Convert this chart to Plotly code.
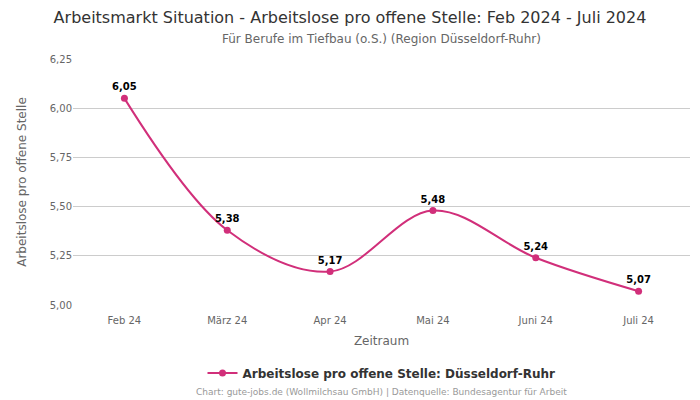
import plotly.graph_objects as go

months = ["Feb 24", "März 24", "Apr 24", "Mai 24", "Juni 24", "Juli 24"]
values = [6.05, 5.38, 5.17, 5.48, 5.24, 5.07]
labels = ["6,05", "5,38", "5,17", "5,48", "5,24", "5,07"]
y_ticks = [5.00, 5.25, 5.50, 5.75, 6.00, 6.25]

color = "#d12f7a"
font = "DejaVu Sans"

plot_top = 59
plot_bottom = 305
plot_h = plot_bottom - plot_top


def py(px):
    return 1 - (px - plot_top) / plot_h


fig = go.Figure()
fig.add_trace(go.Scatter(
    x=months, y=values, mode="lines+markers+text",
    name="Arbeitslose pro offene Stelle: Düsseldorf-Ruhr",
    line=dict(color=color, width=2, shape="spline", smoothing=1.0),
    marker=dict(color=color, size=7),
    text=labels, textposition="top center",
    textfont=dict(family=font, size=10, color="#000000", weight="bold"),
    cliponaxis=False,
))

fig.update_layout(
    width=700, height=400,
    paper_bgcolor="white", plot_bgcolor="white",
    separators=",.",
    font=dict(family=font, color="#666666"),
    margin=dict(l=73, r=10, t=plot_top, b=400 - plot_bottom, autoexpand=False),
    title=dict(
        text="Arbeitsmarkt Situation - Arbeitslose pro offene Stelle: Feb 2024 - Juli 2024",
        x=0.5, xanchor="center", y=1 - 17 / 400, yanchor="middle",
        font=dict(size=16, color="#333333", family=font),
    ),
    showlegend=True,
    legend=dict(orientation="h", x=0.5, xanchor="center", y=py(373), yanchor="middle",
                font=dict(size=12, color="#333333", family=font, weight="bold")),
    xaxis=dict(
        type="category", range=[-0.5, 5.5], automargin=False,
        showgrid=False, showline=False, ticks="",
        ticklabelstandoff=8,
        tickfont=dict(size=10, color="#666666"),
        title=dict(text="Zeitraum", font=dict(size=12, color="#666666"), standoff=11),
    ),
    yaxis=dict(
        range=[5.0, 6.25], tickvals=y_ticks, tickformat=".2f", automargin=False,
        showgrid=True, gridcolor="#cccccc", gridwidth=1,
        zeroline=False, showline=False,
        tickfont=dict(size=10, color="#666666"),
        title=dict(text="Arbeitslose pro offene Stelle", font=dict(size=12, color="#666666"), standoff=20),
    ),
    annotations=[
        dict(text="Für Berufe im Tiefbau (o.S.) (Region Düsseldorf-Ruhr)", x=0.5, y=py(39),
             xref="paper", yref="paper", showarrow=False, yanchor="middle",
             font=dict(size=12, color="#666666", family=font)),
        dict(text="Chart: gute-jobs.de (Wollmilchsau GmbH) | Datenquelle: Bundesagentur für Arbeit",
             x=0.5, y=py(392), xref="paper", yref="paper", showarrow=False, yanchor="middle",
             font=dict(size=9, color="#999999", family=font)),
    ],
)

fig.write_html("out.html", config={"displayModeBar": False},
               post_script="document.body.style.margin='0';")
